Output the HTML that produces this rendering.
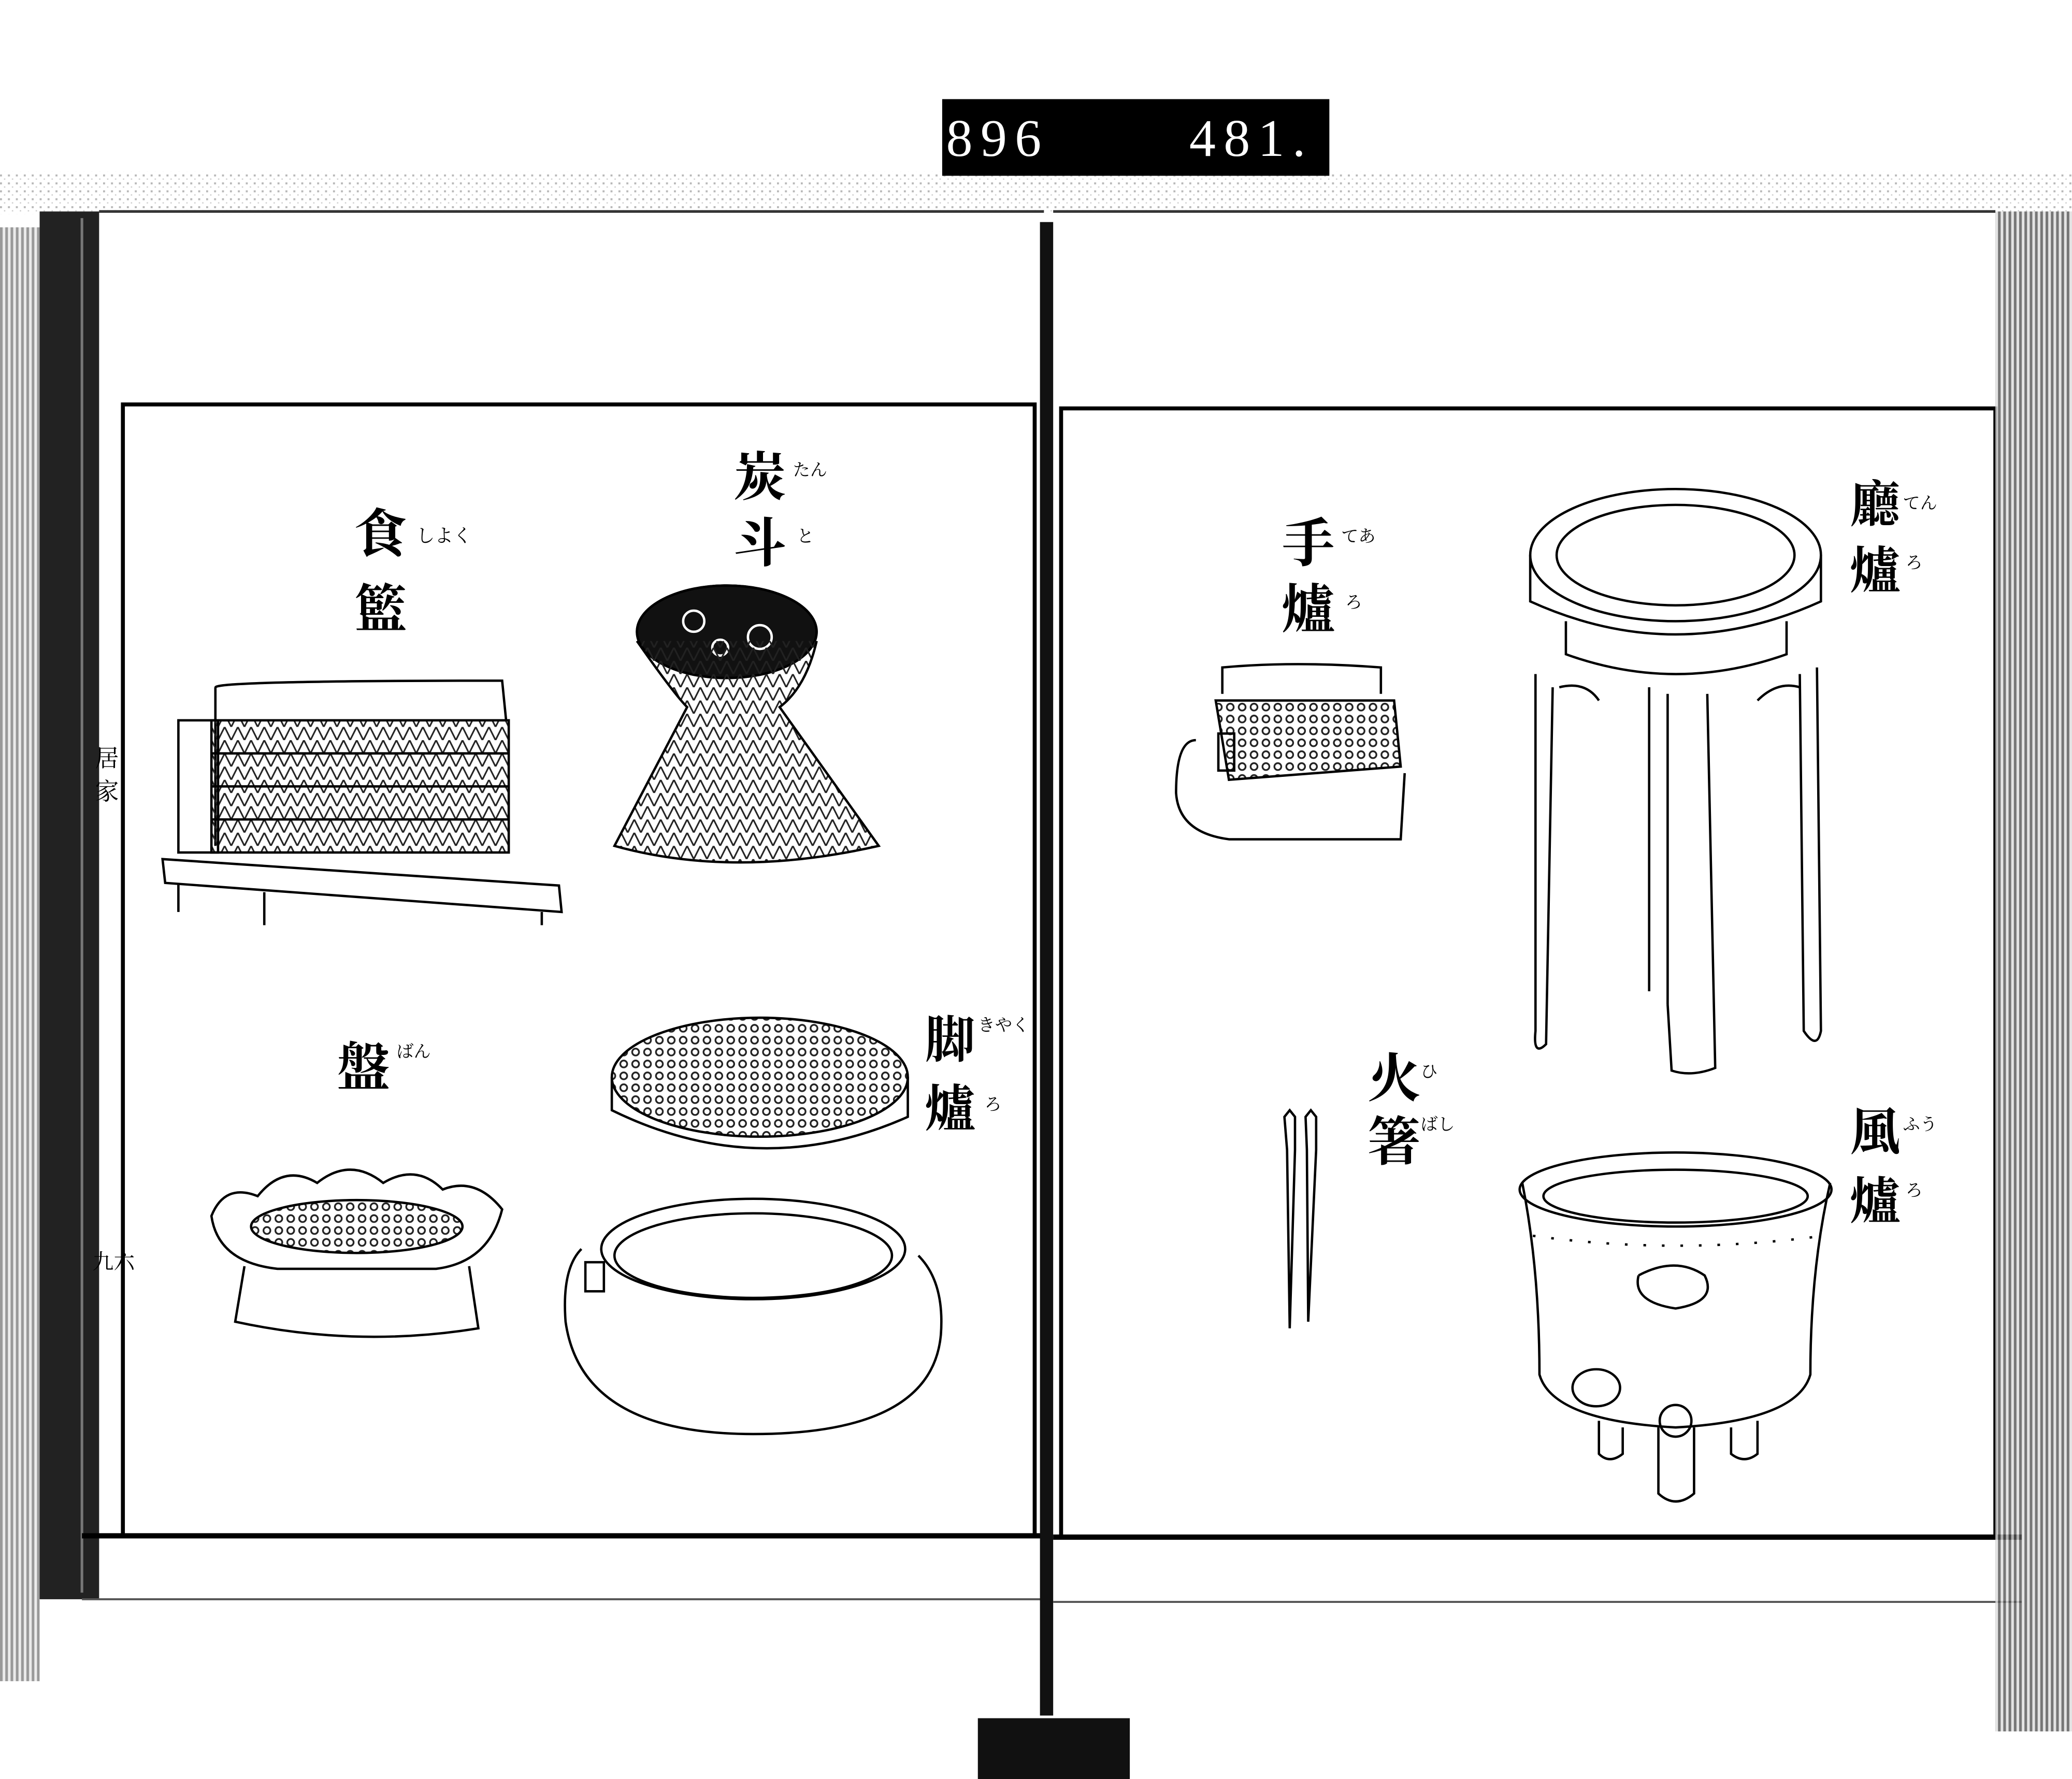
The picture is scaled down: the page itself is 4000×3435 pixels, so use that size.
<!DOCTYPE html>
<html><head><meta charset="utf-8"><style>
html,body{margin:0;padding:0;background:#fff;}
svg{display:block;}
text{font-family:"Liberation Serif","Noto Serif CJK SC","Noto Sans CJK JP",serif;}
.b{font-weight:bold;}
</style></head><body>
<svg width="4000" height="3435" viewBox="0 0 1568 1346" preserveAspectRatio="none" xmlns="http://www.w3.org/2000/svg">
<defs>
<pattern id="hatch" width="10" height="10" patternUnits="userSpaceOnUse">
<path d="M0 0 L5 10 M10 0 L5 10" stroke="#222" stroke-width="1.2" fill="none"/>
</pattern>
<pattern id="dots" width="9" height="9" patternUnits="userSpaceOnUse">
<circle cx="4" cy="4" r="2.6" fill="none" stroke="#222" stroke-width="1.3"/>
</pattern>
<pattern id="grayband" width="6" height="6" patternUnits="userSpaceOnUse">
<rect width="6" height="6" fill="#fff"/><rect width="1.5" height="1.5" fill="#888"/><rect x="3" y="3" width="1" height="1" fill="#aaa"/>
</pattern>
<pattern id="vstripe" width="4" height="10" patternUnits="userSpaceOnUse">
<rect width="4" height="10" fill="#ddd"/><rect width="2" height="10" fill="#555"/>
</pattern>
</defs>
<rect width="1568" height="1346" fill="#fff"/>
<rect x="0" y="130" width="1568" height="32" fill="url(#grayband)" opacity="0.6"/>
<rect x="713" y="75" width="293" height="58" fill="#000"/>
<text x="716" y="118" font-size="40" fill="#fff" font-family="Liberation Mono,monospace" letter-spacing="6">896</text>
<text x="900" y="118" font-size="40" fill="#fff" font-family="Liberation Mono,monospace" letter-spacing="6">481.</text>
<rect x="0" y="172" width="30" height="1100" fill="url(#vstripe)" opacity="0.6"/>
<rect x="30" y="160" width="45" height="1050" fill="#222"/>
<line x1="62" y1="165" x2="62" y2="1205" stroke="#777" stroke-width="2"/>
<line x1="75" y1="160" x2="790" y2="160" stroke="#333" stroke-width="2"/>
<rect x="93" y="306" width="690" height="856" fill="none" stroke="#000" stroke-width="3"/>
<line x1="62" y1="1162" x2="790" y2="1162" stroke="#000" stroke-width="4"/>
<line x1="62" y1="1210" x2="790" y2="1210" stroke="#555" stroke-width="1.5"/>
<text x="72" y="580" font-size="18">居</text><text x="72" y="605" font-size="18">家</text>
<text x="70" y="960" font-size="16">九六</text>
<rect x="787" y="168" width="10" height="1130" fill="#111"/>
<line x1="797" y1="160" x2="1510" y2="160" stroke="#333" stroke-width="2"/>
<rect x="803" y="309" width="707" height="854" fill="none" stroke="#000" stroke-width="3"/>
<line x1="797" y1="1163" x2="1530" y2="1163" stroke="#000" stroke-width="4"/>
<line x1="797" y1="1212" x2="1530" y2="1212" stroke="#555" stroke-width="1.5"/>
<rect x="1510" y="160" width="58" height="1150" fill="url(#vstripe)" opacity="0.8"/>
<rect x="740" y="1300" width="115" height="46" fill="#111"/>

<g class="b">
<text x="268" y="418" font-size="40">食</text><text x="268" y="475" font-size="40">籃</text>
<text x="555" y="375" font-size="40">炭</text><text x="555" y="425" font-size="40">斗</text>
<text x="255" y="822" font-size="40">盤</text>
<text x="700" y="800" font-size="38">脚</text><text x="700" y="852" font-size="38">爐</text>
<text x="970" y="425" font-size="40">手</text><text x="970" y="475" font-size="40">爐</text>
<text x="1400" y="395" font-size="38">廳</text><text x="1400" y="445" font-size="38">爐</text>
<text x="1035" y="830" font-size="40">火</text><text x="1035" y="878" font-size="40">箸</text>
<text x="1400" y="870" font-size="38">風</text><text x="1400" y="922" font-size="38">爐</text>
</g>
<text x="315" y="410" font-size="14">しよく</text>
<text x="600" y="360" font-size="13">たん</text><text x="603" y="410" font-size="13">と</text>
<text x="300" y="800" font-size="13">ばん</text>
<text x="740" y="780" font-size="13">きやく</text><text x="745" y="840" font-size="13">ろ</text>
<text x="1015" y="410" font-size="13">てあ</text><text x="1018" y="460" font-size="13">ろ</text>
<text x="1440" y="385" font-size="13">てん</text><text x="1442" y="430" font-size="13">ろ</text>
<text x="1075" y="815" font-size="13">ひ</text><text x="1075" y="855" font-size="13">ばし</text>
<text x="1440" y="855" font-size="13">ふう</text><text x="1442" y="905" font-size="13">ろ</text>

<g fill="none" stroke="#000" stroke-width="1.8">
<path d="M163 520 L163 640 M163 520 Q165 515 380 515 L383 545"/>
<rect x="160" y="545" width="225" height="100" fill="url(#hatch)"/>
<rect x="135" y="545" width="30" height="100"/>
<line x1="160" y1="570" x2="385" y2="570"/><line x1="160" y1="595" x2="385" y2="595"/><line x1="160" y1="620" x2="385" y2="620"/>
<path d="M123 650 L423 670 L425 690 L125 668 Z" fill="#fff"/>
<path d="M135 668 L135 690 M200 675 L200 700 M410 690 L410 700"/>
<ellipse cx="550" cy="478" rx="68" ry="35" fill="#111"/>
<ellipse cx="550" cy="478" rx="68" ry="35"/>
<circle cx="525" cy="470" r="8" stroke="#fff"/><circle cx="575" cy="482" r="9" stroke="#fff"/><circle cx="545" cy="490" r="6" stroke="#fff"/>
<path d="M482 485 Q510 525 520 535 L465 640 Q555 665 665 640 L590 535 Q610 520 618 485" fill="url(#hatch)"/>
<path d="M160 920 Q170 895 195 905 Q215 880 240 895 Q265 875 290 895 Q315 880 335 900 Q360 890 380 915 Q370 955 330 960 L210 960 Q165 955 160 920 Z" fill="#fff"/>
<ellipse cx="270" cy="928" rx="80" ry="20" fill="url(#dots)"/>
<path d="M185 958 L178 1000 Q270 1020 362 1005 L355 958"/>
<ellipse cx="575" cy="815" rx="112" ry="45" fill="url(#dots)"/>
<path d="M463 815 L463 840 Q575 895 687 845 L687 815"/>
<ellipse cx="570" cy="945" rx="115" ry="38"/>
<ellipse cx="570" cy="950" rx="105" ry="32"/>
<path d="M440 945 Q425 960 428 1000 Q440 1085 570 1085 Q705 1085 712 1010 Q715 970 695 950"/>
<rect x="443" y="955" width="14" height="22"/>
<path d="M925 525 L925 505 Q980 500 1045 505 L1045 525"/>
<path d="M920 530 L1055 530 L1060 580 L930 590 Z" fill="url(#dots)"/>
<path d="M905 560 Q890 560 890 600 Q892 630 930 635 L1060 635 L1063 585"/>
<rect x="922" y="555" width="12" height="28"/>
<path d="M972 845 L976 840 L980 845 L980 870 L976 1005 L974 870 Z"/>
<path d="M988 845 L992 840 L996 845 L996 870 L990 1000 L989 870 Z"/>
<ellipse cx="1268" cy="420" rx="110" ry="50"/>
<ellipse cx="1268" cy="420" rx="90" ry="38"/>
<path d="M1158 420 L1158 455 Q1268 505 1378 455 L1378 420"/>
<path d="M1185 470 L1185 495 Q1268 525 1352 495 L1352 470"/>
<path d="M1162 510 L1162 780 Q1160 800 1170 790 L1175 520"/>
<path d="M1362 510 L1365 780 Q1375 795 1378 780 L1375 505"/>
<path d="M1248 520 L1248 750 M1262 525 L1262 760"/>
<path d="M1262 760 L1265 810 Q1280 815 1298 808 L1292 525"/>
<path d="M1180 520 Q1200 515 1210 530 M1330 530 Q1345 515 1362 520"/>
<ellipse cx="1268" cy="900" rx="118" ry="28"/>
<ellipse cx="1268" cy="905" rx="100" ry="20"/>
<path d="M1152 895 Q1165 960 1165 1040 Q1175 1075 1268 1080 Q1360 1075 1370 1040 Q1370 960 1385 895"/>
<path d="M1160 935 Q1268 950 1380 935" stroke-dasharray="2 12"/>
<path d="M1240 965 Q1268 950 1290 965 Q1300 985 1268 990 Q1235 985 1240 965"/>
<path d="M1210 1075 L1210 1100 Q1218 1108 1228 1100 L1228 1080"/>
<path d="M1310 1080 L1310 1100 Q1320 1108 1330 1100 L1330 1075"/>
<path d="M1255 1080 L1255 1130 Q1268 1142 1282 1130 L1282 1080"/>
<circle cx="1268" cy="1075" r="12"/>
<ellipse cx="1208" cy="1050" rx="18" ry="14"/>
</g>
</svg>
</body></html>
